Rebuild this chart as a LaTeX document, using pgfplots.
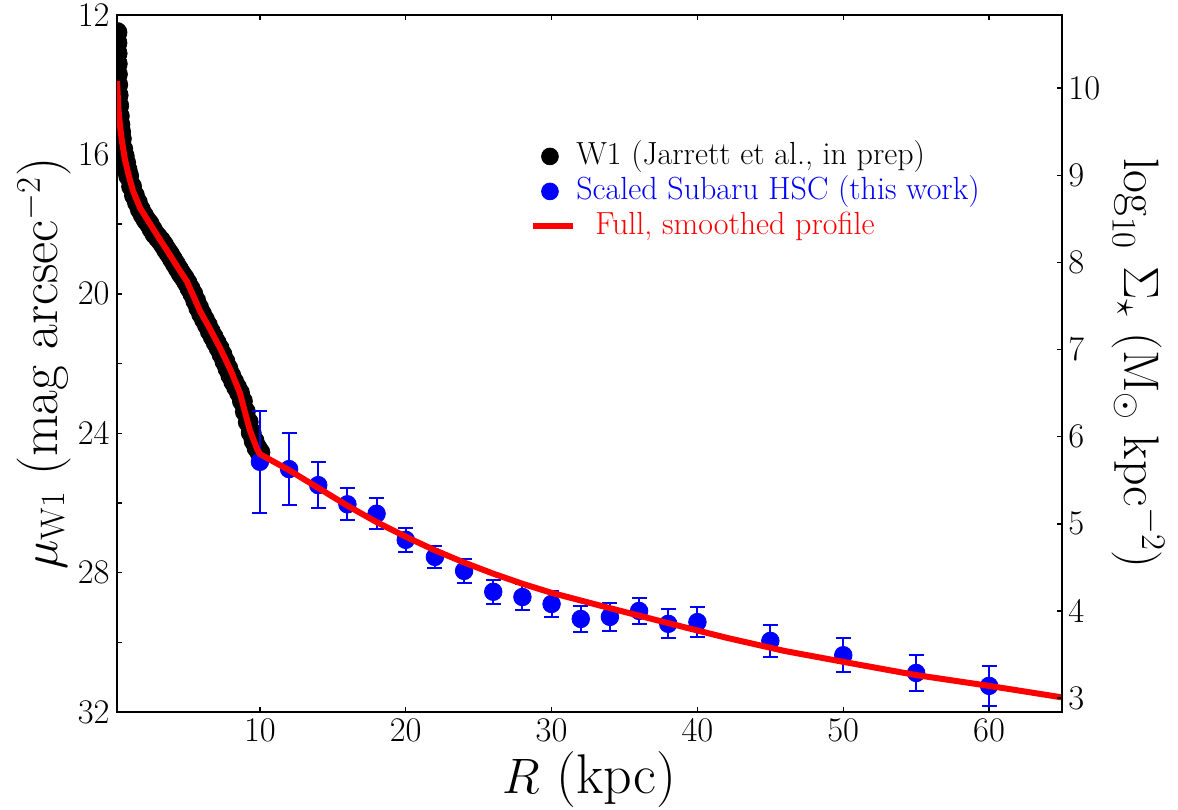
\documentclass[border=0pt]{standalone}
\usepackage{pgfplots}
\usepackage{pgfplotstable}
\pgfplotsset{compat=1.18}

\pgfplotstableread{
R mu
0.20 12.5
0.20 12.8
0.21 13.1
0.22 13.4
0.23 13.7
0.25 14.0
0.28 14.3
0.32 14.6
0.36 14.9
0.40 15.15
0.45 15.35
0.50 15.55
0.60 15.85
0.70 16.05
0.80 16.25
0.90 16.45
1.0 16.62
1.2 16.92
1.4 17.18
1.6 17.38
1.8 17.58
2.0 17.74
2.2 17.88
2.4 17.99
2.6 18.14
2.8 18.28
3.0 18.38
3.2 18.48
3.4 18.6
3.6 18.74
3.8 18.86
4.0 19.0
4.2 19.14
4.4 19.28
4.6 19.42
4.8 19.54
5.0 19.68
5.2 19.84
5.4 20.0
5.6 20.2
5.8 20.4
6.0 20.58
6.2 20.74
6.4 20.9
6.6 21.08
6.8 21.24
7.0 21.4
7.2 21.56
7.4 21.74
7.6 21.94
7.8 22.14
8.0 22.34
8.2 22.52
8.4 22.68
8.6 22.84
8.8 23.08
9.0 23.38
9.2 23.68
9.4 23.98
9.6 24.22
9.8 24.42
10.0 24.55
}\wone

\pgfplotstableread{
R mu err
10 24.82 1.46
12 25.03 1.03
14 25.49 0.66
16 26.04 0.46
18 26.31 0.45
20 27.06 0.35
22 27.55 0.32
24 27.95 0.35
26 28.55 0.35
28 28.70 0.36
30 28.90 0.37
32 29.33 0.38
34 29.27 0.41
36 29.10 0.38
38 29.47 0.42
40 29.42 0.42
45 29.96 0.45
50 30.37 0.49
55 30.88 0.53
60 31.25 0.57
}\hsc

\pgfplotstableread{
R mu
0.2 13.9
0.3 14.7
0.41 15.2
0.55 15.65
0.75 16.16
1.0 16.6
1.3 17.05
1.8 17.55
2.4 17.95
3.0 18.35
3.7 18.8
4.3 19.2
5.0 19.65
5.9 20.5
6.5 20.95
7.26 21.55
8.0 22.2
8.63 22.85
9.3 23.9
9.8 24.45
10 24.6
12 25.06
14 25.57
16 26.08
18 26.55
20 26.97
22 27.36
24 27.71
26 28.03
28 28.32
30 28.58
34 29.02
38 29.45
42 29.87
46 30.25
50 30.56
55 30.94
60 31.25
65 31.58
}\smooth

\begin{document}
\begin{tikzpicture}
\begin{axis}[
  name=ax,
  scale only axis,
  width=472.5pt, height=348.5pt,
  xmin=0.2, xmax=65,
  ymin=12, ymax=32,
  y dir=reverse,
  axis line style={line width=0.7pt},
  tick align=inside,
  major tick length=2.5pt,
  minor tick length=2.5pt,
  every tick/.style={black, line width=0.7pt},
  xtick={10,20,30,40,50,60},
  xtick pos=both,
  xticklabel pos=left,
  ytick={12,16,20,24,28,32},
  minor ytick={14,18,22,26,30},
  ytick pos=left,
  tick label style={font=\fontsize{16}{19}\selectfont},
  xticklabel style={anchor=base, inner sep=0pt, yshift=-14.5pt},
  yticklabel style={anchor=east, inner sep=0pt, xshift=-3.5pt},
  every axis x label/.style={at={(axis description cs:0.5,0)}, yshift=-40.5pt, anchor=base, font=\fontsize{28}{33}\selectfont},
  every axis y label/.style={at={(axis description cs:0,0.5)}, xshift=-29.5pt, rotate=90, anchor=base, font=\fontsize{27}{32}\selectfont},
  xlabel={$R$ (kpc)},
  ylabel={{\fontsize{35}{40}\selectfont$\mu$}\raisebox{-3.5pt}{\fontsize{17}{20}\selectfont W1} (mag arcsec$^{-2}$)},
  clip marker paths=true,
  legend cell align=left,
  legend style={draw=none, fill=none, inner sep=0pt, at={(axis description cs:0.437,0.8192)}, anchor=north west,
    font=\fontsize{16}{19}\selectfont, row sep=2.5pt, column sep=0pt,
    nodes={inner sep=0pt, text height=11.5pt, text depth=3.5pt}},
]
\addplot[only marks, mark=*, mark size=5pt, black,
  legend image code/.code={\fill[black] (8.3pt,0pt) circle (4.2pt);}]
  table[x=R, y=mu] {\wone};
\addlegendentry{W1 (Jarrett et al., in prep)}
\addplot[only marks, mark=*, mark size=4.4pt, blue, mark options={draw=blue, fill=blue},
  legend image code/.code={\fill[blue] (8.3pt,0pt) circle (4.2pt);},
  error bars/.cd, y dir=both, y explicit,
  error bar style={line width=1pt, blue},
  error mark options={rotate=90, mark size=3.75pt, line width=1pt, blue}]
  table[x=R, y=mu, y error=err] {\hsc};
\addlegendentry{\textcolor{blue}{Scaled Subaru HSC (this work)}}
\addplot[red, line width=3pt, no marks,
  legend image code/.code={\draw[red, line width=3pt] (0pt,0pt) -- (20pt,0pt);}]
  table[x=R, y=mu] {\smooth};
\addlegendentry{\textcolor{red}{\hspace{9.5pt}Full, smoothed profile}}
\end{axis}
\begin{axis}[
  scale only axis,
  width=472.5pt, height=348.5pt,
  xmin=0.2, xmax=65,
  ymin=2.84, ymax=10.84,
  axis x line=none,
  axis y line*=right,
  axis line style={line width=0.7pt, -},
  tick align=inside,
  major tick length=2.5pt,
  every tick/.style={black, line width=0.7pt},
  ytick={3,4,5,6,7,8,9,10},
  tick label style={font=\fontsize{16}{19}\selectfont},
  yticklabel style={anchor=west, inner sep=0pt, xshift=3pt},
  every axis y label/.style={at={(axis description cs:1,0.5)}, xshift=31pt, rotate=-90, anchor=base, font=\fontsize{25}{30}\selectfont},
  ylabel={$\log_{10}\,\Sigma_\star$ (M$_\odot$ kpc$^{-2}$)},
]
\end{axis}
\pgfresetboundingbox
\path ([shift={(-58.5pt,-48.5pt)}]ax.south west) rectangle ([shift={(58pt,7.5pt)}]ax.north east);
\end{tikzpicture}
\end{document}
